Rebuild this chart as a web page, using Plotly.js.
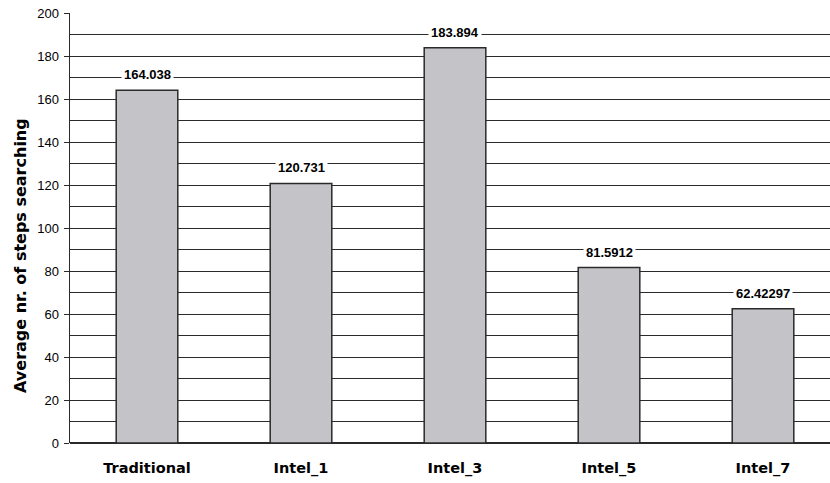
<!DOCTYPE html>
<html>
<head>
<meta charset="utf-8">
<script src="https://cdn.plot.ly/plotly-3.0.1.min.js"></script>
<style>
  html, body { margin: 0; padding: 0; background: #ffffff; overflow: hidden; }
  #chart { width: 830px; height: 483px; }
</style>
</head>
<body>
<div id="chart"></div>
<script>
// Average number of search steps per method
const methods = ["Traditional", "Intel_1", "Intel_3", "Intel_5", "Intel_7"];
const avgSteps = [164.038, 120.731, 183.894, 81.5912, 62.42297];
const stepLabels = ["164.038", "120.731", "183.894", "81.5912", "62.42297"];
const yTitle = "Average nr. of steps searching";

const font = "Arial, 'Liberation Sans', sans-serif";
const wideFont = "'DejaVu Sans', Verdana, sans-serif";

const trace = {
  type: "bar",
  x: methods,
  y: avgSteps,
  width: 0.4,
  marker: { color: "#c4c3c8", line: { color: "#2a2a2a", width: 1.5 } },
  hoverinfo: "x+y"
};

// value labels sit just above each bar on a white box
const labels = methods.map((m, i) => ({
  x: m,
  y: avgSteps[i],
  xref: "x",
  yref: "y",
  text: stepLabels[i],
  showarrow: false,
  yanchor: "bottom",
  yshift: 5,
  bgcolor: "#ffffff",
  borderpad: 2,
  font: { family: font, size: 13, color: "#000000", weight: "bold" }
}));

// rotated axis title, placed a little below the plot's mid-height
labels.push({
  text: yTitle,
  xref: "paper",
  yref: "paper",
  x: 0,
  xshift: -49,
  y: 0.435,
  xanchor: "center",
  yanchor: "middle",
  textangle: -90,
  showarrow: false,
  font: { family: wideFont, size: 16, color: "#000000", weight: "bold" }
});

const layout = {
  width: 830,
  height: 483,
  margin: { l: 70, r: 0, t: 13, b: 40 },
  paper_bgcolor: "#ffffff",
  plot_bgcolor: "#ffffff",
  showlegend: false,
  xaxis: {
    type: "category",
    range: [-0.5, 4.435],
    showgrid: false,
    zeroline: false,
    showline: false,
    ticks: "",
    tickfont: { family: wideFont, size: 14.5, color: "#000000", weight: "bold" },
    ticklabelstandoff: 14
  },
  yaxis: {
    range: [0, 200],
    dtick: 20,
    tick0: 0,
    showgrid: true,
    gridcolor: "#2a2a2a",
    gridwidth: 1,
    minor: { dtick: 10, showgrid: true, gridcolor: "#2a2a2a", gridwidth: 1 },
    zeroline: true,
    zerolinecolor: "#2a2a2a",
    zerolinewidth: 1.5,
    showline: true,
    linecolor: "#2a2a2a",
    linewidth: 1.5,
    ticks: "outside",
    ticklen: 5,
    tickcolor: "#2a2a2a",
    ticklabelstandoff: 2,
    tickfont: { family: font, size: 13, color: "#000000" }
  },
  annotations: labels
};

Plotly.newPlot("chart", [trace], layout, { displayModeBar: false, staticPlot: true });
</script>
</body>
</html>
